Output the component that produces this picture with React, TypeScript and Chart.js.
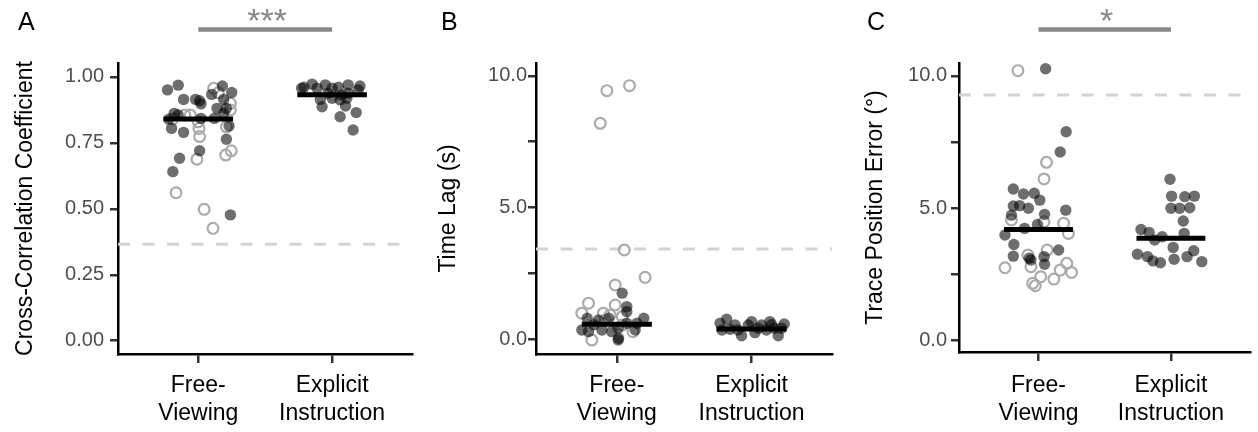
import React, { useEffect, useRef } from 'react';
import { Chart, registerables } from 'chart.js';

Chart.register(...registerables);

const FONT = '"Liberation Sans", Arial, Helvetica, sans-serif';

// ---------- data ----------
const categoryLabels = [['Free-', 'Viewing'], ['Explicit', 'Instruction']];
const categoryPositions = [1, 2];

// Panel A: Cross-correlation coefficient
const aFreeFilled = [
  [0.77, 0.951], [0.85, 0.969], [0.89, 0.915], [0.98, 0.915], [1.01, 0.91], [1.02, 0.898],
  [1.18, 0.966], [1.25, 0.941], [1.1, 0.934], [1.19, 0.915], [1.14, 0.881], [1.21, 0.881],
  [0.82, 0.862], [0.85, 0.856], [0.78, 0.84], [0.8, 0.805], [0.89, 0.79], [1.02, 0.843],
  [1.12, 0.843], [1.23, 0.814], [1.21, 0.764], [1.01, 0.72], [0.86, 0.692], [0.81, 0.641],
  [1.24, 0.477], [1.19, 0.862],
];
const aFreeHollow = [
  [1.115, 0.957], [1.24, 0.9], [1.24, 0.875], [0.9, 0.856], [0.81, 0.841], [1.005, 0.805],
  [1.01, 0.774], [0.99, 0.688], [1.205, 0.704], [1.246, 0.72], [0.834, 0.561], [1.044, 0.498],
  [1.11, 0.426], [1.21, 0.811], [0.94, 0.856], [1.0, 0.83], [1.15, 0.94],
];
const aExplicitFilled = [
  [1.772, 0.957], [1.789, 0.961], [1.851, 0.973], [1.888, 0.957], [1.949, 0.97], [2.0, 0.957],
  [2.047, 0.961], [2.12, 0.97], [2.208, 0.966], [2.195, 0.951], [1.912, 0.915], [1.925, 0.887],
  [2.0, 0.919], [2.06, 0.913], [2.11, 0.919], [2.1, 0.89], [2.06, 0.849], [2.18, 0.865],
  [2.157, 0.799], [2.12, 0.938], [1.97, 0.938], [2.07, 0.932],
];
const aMedians = [0.841, 0.933];
const aChance = 0.366;
const aTicks = [0, 0.25, 0.5, 0.75, 1.0];

// Panel B: Time lag (s)
const bFreeFilled = [
  [1.04, 1.75], [1.074, 1.24], [1.074, 1.05], [0.78, 0.8], [0.74, 0.35], [0.79, 0.29],
  [0.89, 0.35], [1.01, 0.42], [1.01, -0.03], [1.136, 0.35], [1.2, 0.8], [0.864, 0.73],
  [0.94, 0.8], [1.074, 0.61], [1.15, 0.61], [0.963, 0.29], [1.013, 0.04], [0.83, 0.55],
];
const bFreeHollow = [
  [0.926, 9.44], [1.094, 9.63], [0.877, 8.2], [1.055, 3.39], [1.21, 2.35], [0.988, 2.06],
  [0.79, 1.37], [0.988, 1.3], [0.74, 0.99], [0.9, 0.99], [0.95, 0.92], [1.04, 0.86],
  [0.815, -0.03], [1.12, 0.29], [0.914, 0.73], [1.04, 0.54],
];
const bExplicitFilled = [
  [1.766, 0.61], [1.815, 0.76], [1.877, 0.54], [1.926, 0.13], [1.976, 0.54], [2.025, 0.25],
  [2.074, 0.54], [2.136, 0.67], [2.198, 0.13], [2.242, 0.58], [2.222, 0.42], [1.84, 0.38],
  [2.0, 0.67], [2.11, 0.35], [1.9, 0.35], [2.17, 0.42], [2.05, 0.42], [1.78, 0.35],
  [2.15, 0.55],
];
const bMedians = [0.57, 0.39];
const bChance = 3.43;
const bTicks = [0, 2.5, 5, 7.5, 10];

// Panel C: Trace position error (deg)
const cFreeFilled = [
  [1.054, 10.27], [1.209, 7.89], [1.164, 7.12], [0.81, 5.72], [0.887, 5.53], [0.968, 5.56],
  [1.01, 5.3], [0.81, 5.08], [0.858, 5.09], [0.924, 4.99], [1.046, 4.76], [1.206, 4.92],
  [0.796, 4.73], [0.993, 4.38], [0.895, 4.23], [0.747, 3.98], [0.814, 3.62], [1.152, 3.41],
  [0.81, 3.18], [0.943, 3.03], [1.042, 3.16], [1.046, 2.87], [0.93, 3.1],
];
const cFreeHollow = [
  [0.845, 10.2], [1.061, 6.73], [1.042, 6.1], [0.796, 4.55], [1.042, 4.48], [1.19, 4.42],
  [1.226, 4.04], [1.066, 3.41], [0.92, 3.22], [0.943, 2.78], [0.747, 2.74], [1.214, 2.91],
  [1.164, 2.65], [1.25, 2.56], [1.017, 2.4], [1.116, 2.31], [0.956, 2.15], [0.976, 2.06],
];
const cExplicitFilled = [
  [1.993, 6.09], [2.005, 5.45], [2.105, 5.43], [2.177, 5.45], [2.0, 4.99], [2.066, 4.99],
  [2.142, 5.01], [2.093, 4.51], [1.774, 4.19], [1.835, 4.08], [1.877, 3.79], [1.934, 3.91],
  [2.1, 4.04], [2.017, 3.51], [2.172, 3.38], [1.747, 3.25], [1.823, 3.16], [1.864, 3.0],
  [1.921, 2.93], [2.024, 3.06], [2.122, 3.16], [2.233, 2.97],
];
const cMedians = [4.19, 3.86];
const cChance = 9.28;
const cTicks = [0, 2.5, 5, 7.5, 10];

// ---------- styling ----------
const FILLED = 'rgba(0,0,0,0.57)';
const HOLLOW = '#ababab';
const X_MIN = 0.4;
const X_MAX = 2.6;
const MEDIAN_HALF = 0.26;

type PanelSpec = {
  left: number;
  width: number;
  chartLeft: number;
  chartRight: number;
  chartBottom: number;
  yMin: number;
  yMax: number;
  ticks: number[];
  tickLabel: (v: number) => string;
  tickPad: number;
  title: string;
  titlePad: number;
  xPad: number;
  letter: string;
  letterX: number;
  sig: string | null;
  free: number[][];
  freeHollow: number[][];
  explicit: number[][];
  medians: number[];
  chance: number;
};

const toPts = (arr: number[][]) => arr.map(([x, y]) => ({ x, y }));

const annotPlugin = {
  id: 'annot',
  afterDraw(chart: any, _args: any, opts: any) {
    const { ctx } = chart;
    const xs = chart.scales.x;
    ctx.save();
    ctx.fillStyle = '#000';
    ctx.font = `25px ${FONT}`;
    ctx.textAlign = 'left';
    ctx.textBaseline = 'alphabetic';
    ctx.fillText(opts.letter, opts.letterX, 30);
    if (opts.sig) {
      const x1 = xs.getPixelForValue(categoryPositions[0]);
      const x2 = xs.getPixelForValue(categoryPositions[1]);
      ctx.strokeStyle = '#888888';
      ctx.lineWidth = 4.5;
      ctx.beginPath();
      ctx.moveTo(x1, 29.5);
      ctx.lineTo(x2, 29.5);
      ctx.stroke();
      ctx.fillStyle = '#888888';
      ctx.font = `34px ${FONT}`;
      ctx.textAlign = 'center';
      ctx.fillText(opts.sig, (x1 + x2) / 2 + 2, 32);
    }
    ctx.restore();
  },
};

function Panel({ spec }: { spec: PanelSpec }) {
  const ref = useRef<HTMLCanvasElement>(null);
  useEffect(() => {
    if (!ref.current) return;
    const medianDs = spec.medians.map((m, i) => ({
      type: 'line' as const,
      data: [
        { x: categoryPositions[i] - MEDIAN_HALF, y: m },
        { x: categoryPositions[i] + MEDIAN_HALF, y: m },
      ],
      borderColor: '#000',
      borderWidth: 5,
      pointRadius: 0,
      showLine: true,
      fill: false,
    }));
    const chart = new Chart(ref.current, {
      type: 'scatter',
      data: {
        datasets: [
          ...medianDs,
          {
            data: toPts(spec.free),
            pointRadius: 5.7,
            pointBackgroundColor: FILLED,
            pointBorderWidth: 0,
            pointBorderColor: 'rgba(0,0,0,0)',
          },
          {
            data: toPts(spec.explicit),
            pointRadius: 5.7,
            pointBackgroundColor: FILLED,
            pointBorderWidth: 0,
            pointBorderColor: 'rgba(0,0,0,0)',
          },
          {
            data: toPts(spec.freeHollow),
            pointRadius: 5.4,
            pointBackgroundColor: 'rgba(0,0,0,0)',
            pointBorderColor: HOLLOW,
            pointBorderWidth: 2.2,
          },
          {
            type: 'line' as const,
            data: [
              { x: X_MIN, y: spec.chance },
              { x: X_MAX, y: spec.chance },
            ],
            borderColor: '#d3d3d3',
            borderWidth: 3,
            borderDash: [12, 12.5],
            pointRadius: 0,
            showLine: true,
            fill: false,
          },
        ] as any,
      },
      options: {
        responsive: false,
        animation: false,
        events: [],
        layout: {
          padding: { top: 63, right: spec.width - spec.chartRight, left: 0, bottom: 0 },
        },
        plugins: {
          legend: { display: false },
          tooltip: { enabled: false },
          annot: { letter: spec.letter, letterX: spec.letterX, sig: spec.sig },
        } as any,
        scales: {
          x: {
            type: 'linear',
            min: X_MIN,
            max: X_MAX,
            afterBuildTicks: (scale: any) => {
              scale.ticks = categoryPositions.map((v) => ({ value: v }));
            },
            afterFit: (scale: any) => {
              scale.height = 432 - spec.chartBottom;
            },
            ticks: {
              autoSkip: false,
              maxRotation: 0,
              padding: spec.xPad,
              color: '#000',
              font: { family: FONT, size: 23, lineHeight: 1.25 },
              callback: (v: any) => {
                const i = categoryPositions.indexOf(Number(v));
                return i >= 0 ? categoryLabels[i] : '';
              },
            },
            grid: {
              display: true,
              drawOnChartArea: false,
              drawTicks: true,
              tickLength: 9,
              color: '#333',
              lineWidth: 2.5,
            },
            border: { display: true, color: '#000', width: 2.5 },
          },
          y: {
            type: 'linear',
            min: spec.yMin,
            max: spec.yMax,
            afterBuildTicks: (scale: any) => {
              scale.ticks = spec.ticks.map((v) => ({ value: v }));
            },
            afterFit: (scale: any) => {
              scale.width = spec.chartLeft;
            },
            ticks: {
              padding: spec.tickPad,
              color: '#4d4d4d',
              font: { family: FONT, size: 20 },
              callback: (v: any) => spec.tickLabel(Number(v)),
            },
            grid: {
              display: true,
              drawOnChartArea: false,
              drawTicks: true,
              tickLength: 8,
              color: '#333',
              lineWidth: 2.5,
            },
            border: { display: true, color: '#000', width: 2.5 },
            title: {
              display: true,
              text: spec.title,
              color: '#000',
              font: { family: FONT, size: 23, lineHeight: 1.2 },
              padding: { top: spec.titlePad, bottom: 0 },
            },
          },
        },
      } as any,
      plugins: [annotPlugin],
    });
    return () => chart.destroy();
  }, [spec]);
  return (
    <div style={{ position: 'absolute', left: spec.left, top: 0, width: spec.width, height: 432 }}>
      <canvas ref={ref} width={spec.width} height={432} style={{ width: spec.width, height: 432, display: 'block' }} />
    </div>
  );
}

const panels: PanelSpec[] = [
  {
    left: 0, width: 420, chartLeft: 118, chartRight: 419, chartBottom: 354,
    yMin: -0.0505, yMax: 1.053, ticks: aTicks, tickLabel: (v) => v.toFixed(2), tickPad: 6,
    title: 'Cross-Correlation Coefficient', titlePad: 11.5, xPad: 8,
    letter: 'A', letterX: 18, sig: '***',
    free: aFreeFilled, freeHollow: aFreeHollow, explicit: aExplicitFilled, medians: aMedians, chance: aChance,
  },
  {
    left: 420, width: 420, chartLeft: 116, chartRight: 415, chartBottom: 354,
    yMin: -0.56, yMax: 10.49, ticks: bTicks,
    tickLabel: (v) => (Math.abs(v % 5) < 1e-9 ? v.toFixed(1) : ''), tickPad: 1,
    title: 'Time Lag (s)', titlePad: 15, xPad: 8,
    letter: 'B', letterX: 21, sig: null,
    free: bFreeFilled, freeHollow: bFreeHollow, explicit: bExplicitFilled, medians: bMedians, chance: bChance,
  },
  {
    left: 840, width: 418, chartLeft: 119, chartRight: 418, chartBottom: 352,
    yMin: -0.45, yMax: 10.49, ticks: cTicks,
    tickLabel: (v) => (Math.abs(v % 5) < 1e-9 ? v.toFixed(1) : ''), tickPad: 4,
    title: 'Trace Position Error (°)', titlePad: 21.5, xPad: 10,
    letter: 'C', letterX: 27, sig: '*',
    free: cFreeFilled, freeHollow: cFreeHollow, explicit: cExplicitFilled, medians: cMedians, chance: cChance,
  },
];

export default function App() {
  return (
    <div style={{ position: 'absolute', left: 0, top: 0, width: 1258, height: 432, background: '#fff', overflow: 'hidden' }}>
      {panels.map((p) => (
        <Panel key={p.letter} spec={p} />
      ))}
    </div>
  );
}
